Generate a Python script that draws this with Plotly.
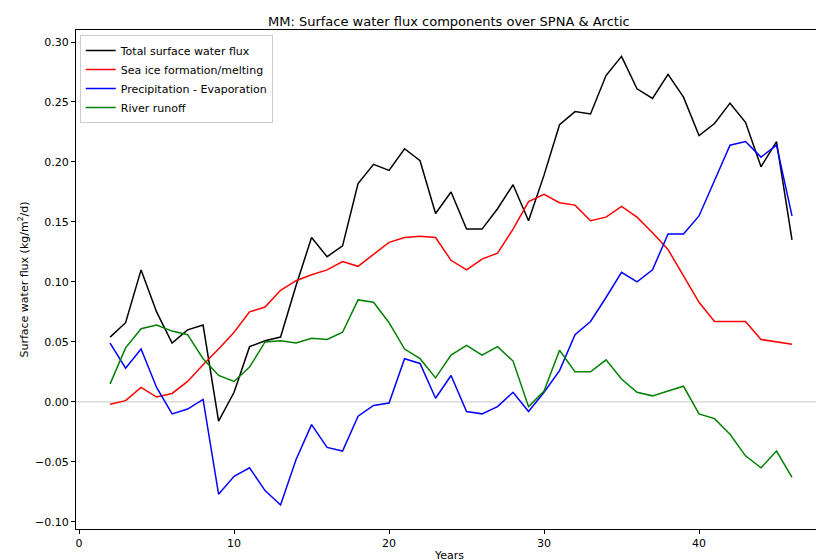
import plotly.graph_objects as go

years = list(range(2, 47))

total_flux = [0.054, 0.066, 0.110, 0.075, 0.049, 0.060, 0.064, -0.016, 0.008, 0.046,
              0.051, 0.054, 0.097, 0.137, 0.121, 0.130, 0.182, 0.198, 0.193, 0.211,
              0.201, 0.157, 0.175, 0.144, 0.144, 0.161, 0.181, 0.151, 0.189, 0.231,
              0.242, 0.240, 0.272, 0.288, 0.261, 0.253, 0.273, 0.254, 0.222, 0.232,
              0.249, 0.233, 0.196, 0.217, 0.135]
sea_ice = [-0.002, 0.001, 0.012, 0.004, 0.007, 0.017, 0.031, 0.044, 0.058, 0.075,
           0.079, 0.093, 0.101, 0.106, 0.110, 0.117, 0.113, 0.123, 0.133, 0.137,
           0.138, 0.137, 0.118, 0.110, 0.119, 0.124, 0.144, 0.167, 0.173, 0.166,
           0.164, 0.151, 0.154, 0.163, 0.154, 0.141, 0.127, 0.105, 0.083, 0.067,
           0.067, 0.067, 0.052, 0.050, 0.048]
p_minus_e = [0.049, 0.028, 0.044, 0.012, -0.010, -0.006, 0.002, -0.077, -0.062, -0.055,
             -0.074, -0.086, -0.048, -0.019, -0.038, -0.041, -0.012, -0.003, -0.001, 0.036,
             0.032, 0.003, 0.022, -0.008, -0.010, -0.004, 0.008, -0.008, 0.008, 0.026,
             0.056, 0.067, 0.087, 0.108, 0.100, 0.110, 0.140, 0.140, 0.155, 0.184,
             0.214, 0.217, 0.204, 0.214, 0.155]
runoff = [0.015, 0.045, 0.061, 0.064, 0.059, 0.056, 0.036, 0.022, 0.017, 0.029,
          0.050, 0.051, 0.049, 0.053, 0.052, 0.058, 0.085, 0.083, 0.066, 0.044,
          0.036, 0.020, 0.039, 0.047, 0.039, 0.046, 0.034, -0.004, 0.009, 0.043,
          0.025, 0.025, 0.035, 0.019, 0.008, 0.005, 0.009, 0.013, -0.010, -0.014,
          -0.027, -0.045, -0.055, -0.041, -0.063]

series = [
    ('Total surface water flux', total_flux, 'black'),
    ('Sea ice formation/melting', sea_ice, 'red'),
    ('Precipitation - Evaporation', p_minus_e, 'blue'),
    ('River runoff', runoff, 'green'),
]

fig = go.Figure()
for name, vals, col in series:
    fig.add_trace(go.Scatter(x=years, y=vals, mode='lines', name=name,
                             line=dict(color=col, width=1.5)))

fig.add_hline(y=0, line=dict(color='lightgrey', width=1.2), layer='below')

axis = dict(showline=True, linecolor='black', linewidth=1, mirror=True,
            ticks='outside', ticklen=4, tickcolor='black', showgrid=False,
            zeroline=False, automargin=False, tickfont=dict(size=11, color='black'))

fig.update_layout(
    width=824, height=560,
    margin=dict(l=68, r=9, t=22, b=39, autoexpand=False),
    paper_bgcolor='white', plot_bgcolor='white',
    font=dict(family='DejaVu Sans', color='black'),
    title=dict(text='MM: Surface water flux components over SPNA & Arctic',
               x=0.535, xanchor='center', y=0.985, yanchor='top',
               font=dict(size=13)),
    xaxis=dict(axis, range=[-0.2, 48], dtick=10,
               title=dict(text='Years', font=dict(size=11), standoff=2)),
    yaxis=dict(axis, range=[-0.106, 0.31], dtick=0.05, tickformat='.2f',
               title=dict(text='Surface water flux (kg/m<sup>2</sup>/d)',
                          font=dict(size=11), standoff=4)),
    legend=dict(x=0.005, y=0.99, xanchor='left', yanchor='top',
                bgcolor='white', bordercolor='#cccccc', borderwidth=1,
                font=dict(size=11), tracegroupgap=0),
    showlegend=True,
)

fig.write_html("out.html")
